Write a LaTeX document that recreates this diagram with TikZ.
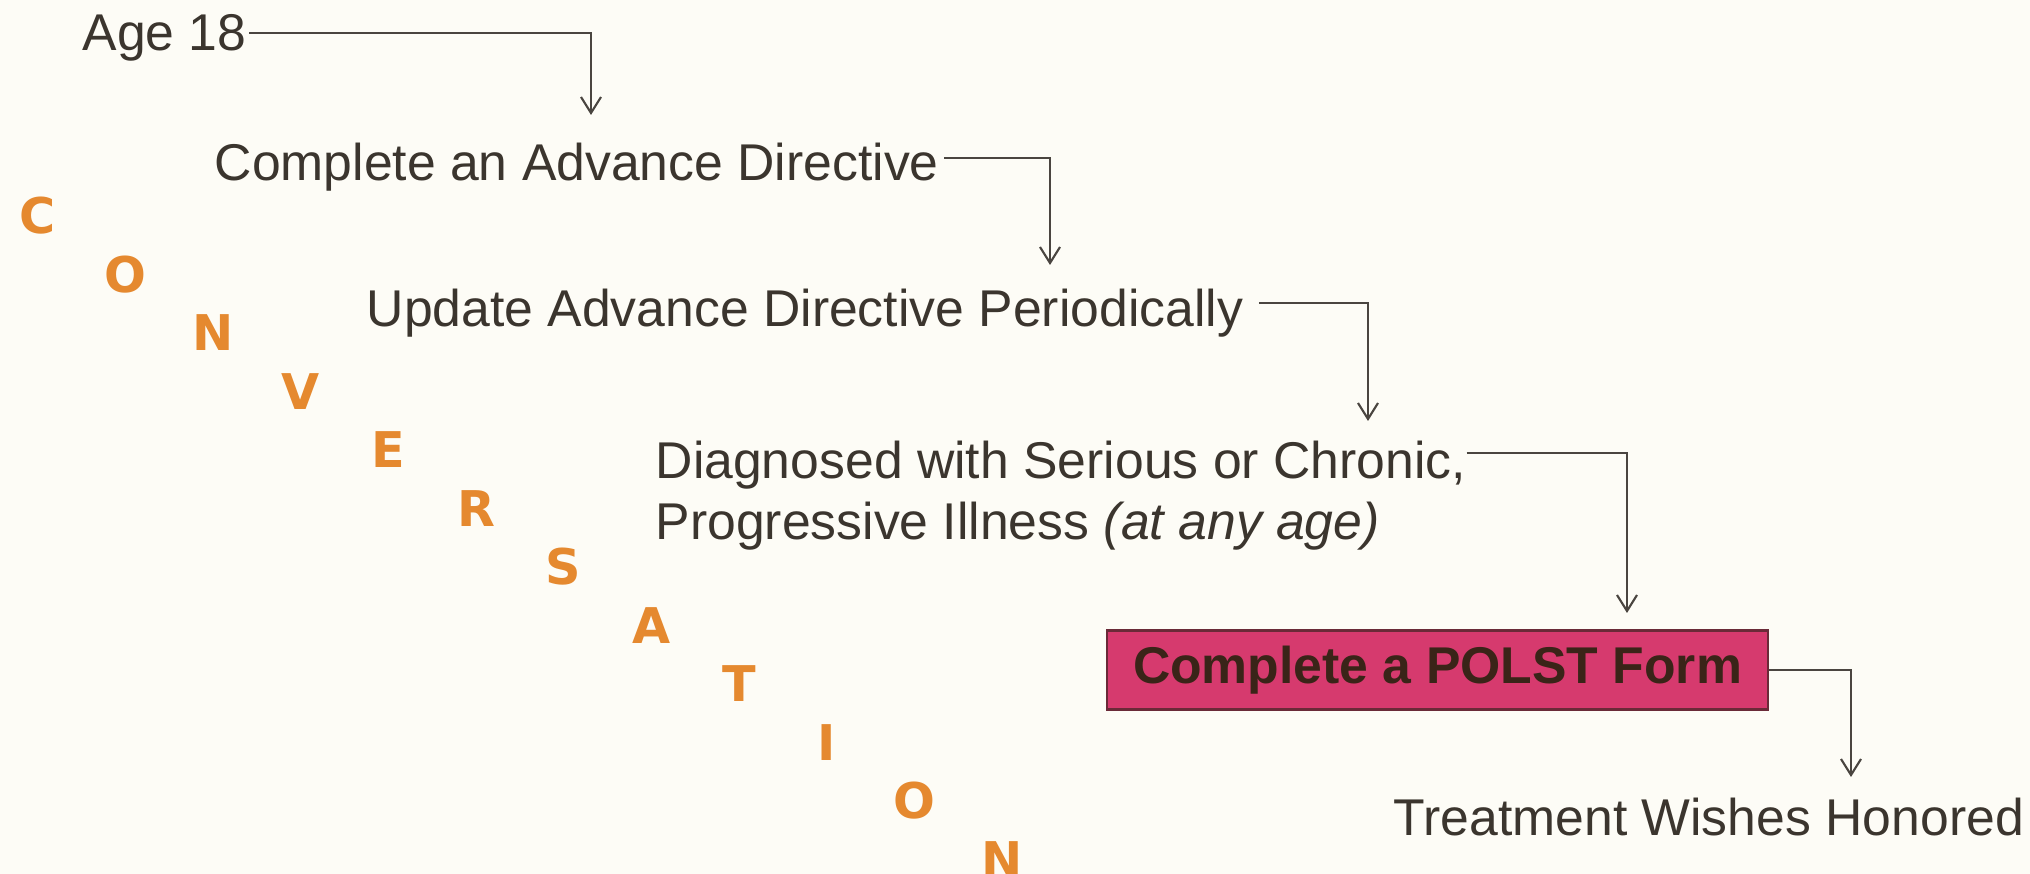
\documentclass[tikz,border=0pt]{standalone}
\usepackage{fontspec}
\setmainfont{Liberation Sans}
\newfontfamily\letterfont{DejaVu Sans}
\usetikzlibrary{arrows.meta,calc}

\definecolor{paperBg}{HTML}{FDFCF6}
\definecolor{inkText}{HTML}{3B352E}
\definecolor{inkLine}{HTML}{4A4540}
\definecolor{letterOrange}{HTML}{E5892F}
\definecolor{polstPink}{HTML}{D63A6E}
\definecolor{boxEdge}{HTML}{6A2A38}
\definecolor{boxText}{HTML}{3A2418}

\begin{document}
\begin{tikzpicture}
[x=0.01cm,y=-0.01cm,
 stepText/.style={anchor=base west,inner sep=0pt,text=inkText,font=\fontsize{14.7}{17}\selectfont},
 flowLine/.style={draw=inkLine,line width=0.6pt,-{Straight Barb[length=1.6mm,width=2mm]}},
 letterDecorate/.style={inner sep=0pt,text=letterOrange,font=\letterfont\bfseries\fontsize{14}{16}\selectfont},
 polstBox/.style={draw=boxEdge,line width=0.7pt,fill=polstPink,inner sep=0pt,minimum width=6.61cm,minimum height=0.79cm,text=boxText,font=\bfseries\fontsize{14.7}{17}\selectfont}]
%% background
\useasboundingbox (0,0) rectangle (2030,874);
\fill[paperBg] (0,0) rectangle (2030,874);
%% steps
\foreach \nodename/\x/\y/\txt in {
  age/82/51/{Age 18},
  adv/214/181/{Complete an Advance Directive},
  upd/366/327/{Update Advance Directive Periodically},
  diagA/655/479/{Diagnosed with Serious or Chronic,},
  diagB/655/540/{Progressive Illness \textit{(at any age)}},
  treat/1393/836/{Treatment Wishes Honored}}
{
  \node[stepText] (\nodename) at (\x,\y) {\txt};
}
\node[polstBox] (polst) at (1437.5,670) {Complete a POLST Form};
%% the word down the left
\foreach \ch [count=\i from 0] in {C,O,N,V,E,R,S,A,T,I,O,N}
{
  \node[letterDecorate] (ltr\i) at ({38+87.6*\i},{216+58.5*\i}) {\ch};
}
%% arrow ends
\coordinate (tipA) at (591,115);
\coordinate (tipB) at (1050,265);
\coordinate (tipC) at (1368,421);
\coordinate (tipD) at (1627,613);
\coordinate (tipE) at (1851,777);
%% connectors
\draw[flowLine] ($(age.base east)+(2,-18)$) -| (tipA);
\draw[flowLine] ($(adv.base east)+(5,-23)$) -| (tipB);
\draw[flowLine] ($(upd.base east)+(15,-24)$) -| (tipC);
\draw[flowLine] ($(diagA.base east)+(0,-26)$) -| (tipD);
\draw[flowLine] (polst.east) -| (tipE);
\end{tikzpicture}
\end{document}
